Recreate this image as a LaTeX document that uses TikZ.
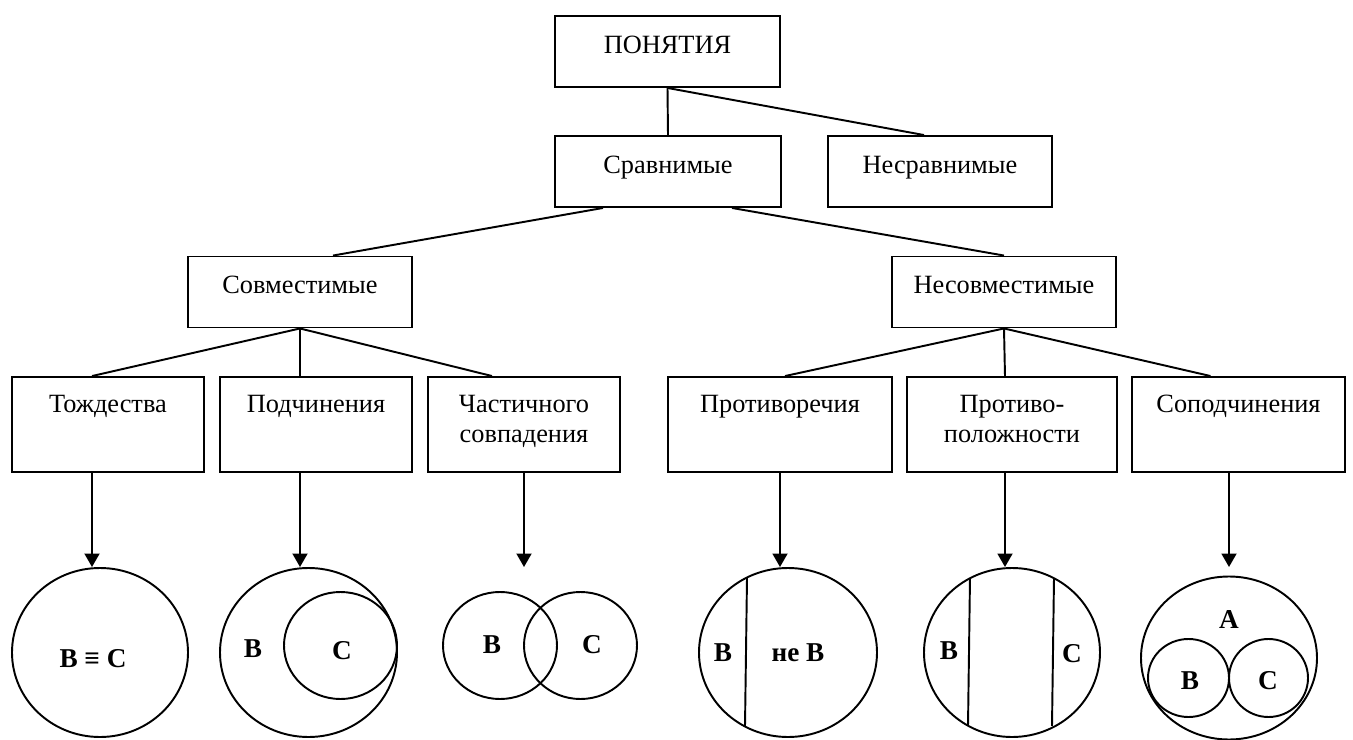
\documentclass[tikz,border=0pt]{standalone}
\usepackage{fontspec}
\setmainfont{Liberation Serif}
\usepackage{tikz}
\usetikzlibrary{arrows.meta,calc}

\begin{document}
\begin{tikzpicture}[
    x=0.02cm, y=-0.02cm,
    >={Triangle[length=0.27cm,width=0.3cm]},
    box/.style={
      draw=black, line width=1.1pt,
      font=\fontsize{15}{17.6}\selectfont,
      minimum width=#1, inner sep=0pt, align=center,
    },
    upbox/.style={box=#1, minimum height=1.42cm, text height=0.4cm, text depth=0.33cm},
    leafbox/.style={box=#1, minimum height=1.9cm, text width=#1, text height=0.4cm, text depth=0.9cm},
    link/.style={line width=1.1pt},
    arr/.style={->, line width=1.1pt},
    ring/.style={line width=1.1pt},
    lbl/.style={font=\fontsize{15.5}{18}\selectfont\bfseries, inner sep=0pt},
  ]

  % page frame
  \useasboundingbox (0,0) rectangle (1353,740);

  % =================== TOP LEVELS ===================
  \node[upbox=4.5cm] (pon) at (667.5,51.5) {ПОНЯТИЯ};
  \node[upbox=4.52cm] (sravn) at (668,171.5) {Сравнимые};
  \node[upbox=4.48cm] (nesravn) at (940,171.5) {Несравнимые};

  \node[upbox=4.48cm] (sovm) at (300,292) {Совместимые};
  \node[upbox=4.48cm] (nesovm) at (1004,292) {Несовместимые};

  \draw[link] (pon.south) -- (sravn.north);
  \draw[link] (pon.south) -- ($(nesravn.north)+(-16,0)$);
  \draw[link] ($(sravn.south)+(-65,0)$) -- ($(sovm.north)+(33,0)$);
  \draw[link] ($(sravn.south)+(64,0)$) -- (nesovm.north);

  % =================== KINDS OF RELATION ===================
  \node[leafbox=3.84cm] (tozh) at (108,424.5) {Тождества\\\mbox{}};
  \node[leafbox=3.84cm] (podch) at (316,424.5) {Подчинения\\\mbox{}};
  \node[leafbox=3.84cm] (chast) at (524,424.5) {Частичного\\совпадения};
  \node[leafbox=4.48cm] (protivor) at (780,424.5) {Противоречия\\\mbox{}};
  \node[leafbox=4.2cm] (protivop) at (1012,424.5) {Противо-\\положности};
  \node[leafbox=4.26cm] (sopodch) at (1238.5,424.5) {Соподчинения\\\mbox{}};

  % arrow tips above the diagrams
  \coordinate (a1) at (92,567);
  \coordinate (a2) at (300,567);
  \coordinate (a3) at (524,567);
  \coordinate (a4) at (780,567);
  \coordinate (a5) at (1005,567);
  \coordinate (a6) at (1229,567);

  \draw[link] (sovm.south) -- (tozh.north -| a1);
  \draw[link] (sovm.south) -- (podch.north -| a2);
  \draw[link] (sovm.south) -- ($(chast.north)+(-32,0)$);
  \draw[link] (nesovm.south) -- ($(protivor.north)+(5,0)$);
  \draw[link] (nesovm.south) -- (protivop.north -| a5);
  \draw[link] (nesovm.south) -- ($(sopodch.north)+(-28,0)$);

  \draw[arr] (tozh.south -| a1) -- (a1);
  \draw[arr] (podch.south -| a2) -- (a2);
  \draw[arr] (chast.south -| a3) -- (a3);
  \draw[arr] (protivor.south -| a4) -- (a4);
  \draw[arr] (protivop.south -| a5) -- (a5);
  \draw[arr] (sopodch.south -| a6) -- (a6);

  % =================== DIAGRAMS ===================
  % identity
  \draw[ring] (100,652.5) ellipse [x radius=88, y radius=84.5];
  \node[lbl] (d1) at (93,659) {В ≡ С};

  % subordination
  \draw[ring] (308.5,652.5) ellipse [x radius=88.5, y radius=84.5];
  \draw[ring] (340.5,645.5) ellipse [x radius=56.5, y radius=53.5];
  \node[lbl] (d2b) at (253,649) {В};
  \node[lbl] (d2c) at (342,651) {С};

  % partial overlap
  \draw[ring] (500,645.5) ellipse [x radius=57, y radius=53.5];
  \draw[ring] (580.5,645.5) ellipse [x radius=56.5, y radius=53.5];
  \node[lbl] (d3b) at (492,645) {В};
  \node[lbl] (d3c) at (592,645) {С};

  % contradiction
  \draw[ring] (788,652.5) ellipse [x radius=89, y radius=84.5];
  \draw[ring] (747,578) -- (745,726);
  \node[lbl] (d4b) at (723,653) {В};
  \node[lbl] (d4n) at (798,653) {не В};

  % contrariety
  \draw[ring] (1012,652.5) ellipse [x radius=88, y radius=84.5];
  \draw[ring] (970,578) -- (968,726);
  \draw[ring] (1054,578) -- (1052,726);
  \node[lbl] (d5b) at (949,651) {В};
  \node[lbl] (d5c) at (1072,654) {С};

  % co-subordination
  \draw[ring] (1229,658) ellipse [x radius=88, y radius=81.5];
  \draw[ring] (1188.5,678) ellipse [x radius=40.5, y radius=39];
  \draw[ring] (1268.5,678) ellipse [x radius=39.5, y radius=39];
  \node[lbl] (d6a) at (1229,620) {А};
  \node[lbl] (d6b) at (1190,681) {В};
  \node[lbl] (d6c) at (1268,681) {С};

\end{tikzpicture}
\end{document}
